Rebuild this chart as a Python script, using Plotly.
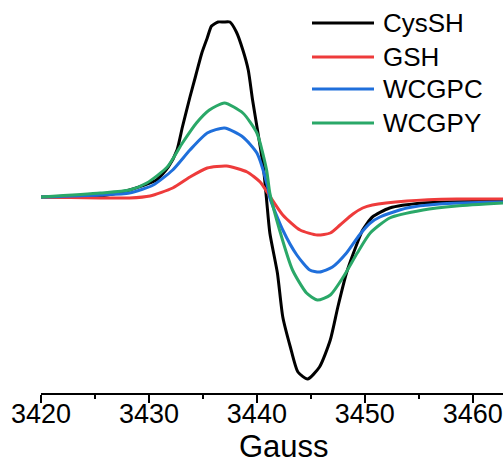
import plotly.graph_objects as go

# ---- data (field in Gauss, intensity in arbitrary units) ----
names = ["CysSH", "GSH", "WCGPC", "WCGPY"]
colors = ["#000000", "#ee3b3b", "#1f6fdb", "#2aa868"]

cys_x = [3420.0, 3425.5, 3428.2, 3430.7, 3431.8, 3432.6, 3433.1, 3433.8, 3434.3, 3434.9,
         3435.4, 3435.8, 3436.4, 3436.9, 3437.5, 3438.1, 3438.7, 3439.2, 3439.6, 3440.1,
         3440.6, 3440.9, 3441.2, 3441.9, 3442.4, 3443.1, 3443.8, 3444.7, 3445.8, 3446.8,
         3447.5, 3448.3, 3449.3, 3449.8, 3450.7, 3452.3, 3455.4, 3462.8]
cys_y = [3, 4, 10, 20, 33, 50, 73, 103, 123, 147,
         162, 174, 178, 178, 178, 168, 150, 130, 100, 67,
         33, 0, -33, -73, -117, -147, -172, -179, -167, -140,
         -107, -73, -43, -30, -17, -8, -3, -1]

gsh_x = [3420.0, 3425.5, 3428.2, 3430.1, 3432.2, 3433.8, 3435.4, 3437.2, 3439.1, 3440.3,
         3441.0, 3442.4, 3444.0, 3445.6, 3446.8, 3447.7, 3448.9, 3449.8, 3450.7, 3453.9,
         3458.5, 3462.8]
gsh_y = [3, 2, 2, 4, 12, 23, 32, 34, 28, 18,
         7, -15, -30, -35, -33, -25, -14, -8, -5, -1,
         1, 1]

wcgpc_x = [3420.0, 3425.5, 3428.2, 3430.4, 3432.2, 3433.8, 3435.4, 3437.0, 3438.7, 3440.0,
           3441.0, 3441.2, 3442.4, 3443.7, 3444.9, 3445.8, 3447.0, 3448.3, 3449.5, 3450.5,
           3451.4, 3453.9, 3456.9, 3462.8]
wcgpc_y = [3, 5, 7, 15, 30, 50, 67, 72, 63, 47,
           13, 2, -30, -55, -70, -72, -67, -53, -35, -23,
           -17, -8, -4, -2]

wcgpy_x = [3420.0, 3425.5, 3428.2, 3429.8, 3431.7, 3433.1, 3434.4, 3435.6, 3437.0, 3438.7,
           3440.0, 3440.9, 3441.2, 3442.1, 3443.3, 3444.6, 3445.6, 3446.8, 3448.0, 3449.3,
           3450.5, 3452.3, 3455.4, 3458.5, 3462.8]
wcgpy_y = [3, 7, 10, 17, 33, 57, 77, 90, 97, 87,
           67, 30, 7, -30, -70, -93, -100, -95, -77, -53,
           -33, -18, -10, -6, -3]

series_x = [cys_x, gsh_x, wcgpc_x, wcgpy_x]
series_y = [cys_y, gsh_y, wcgpc_y, wcgpy_y]

x_ticks = [3420, 3430, 3440, 3450, 3460]
x_title = "Gauss"

# ---- layout geometry ----
W, H = 503, 464
ML, MR, MT, MB = 41, 0, 0, 71
PW, PH = W - ML - MR, H - MT - MB
FONT = "Liberation Sans, Arial, sans-serif"


def px_to_paper(px, py):
    return (px - ML) / PW, (H - MB - py) / PH


fig = go.Figure()
for n, c, xs, ys in zip(names, colors, series_x, series_y):
    fig.add_trace(go.Scatter(x=xs, y=ys, mode="lines", name=n,
                             line=dict(color=c, width=3, shape="spline", smoothing=0.6),
                             showlegend=False))

# manual legend (long line samples like the original)
shapes = []
annotations = []
row_py = [23, 57, 89, 123]
for n, c, py in zip(names, colors, row_py):
    x0, y0 = px_to_paper(312, py)
    x1, _ = px_to_paper(374, py)
    shapes.append(dict(type="line", xref="paper", yref="paper", x0=x0, x1=x1, y0=y0, y1=y0,
                       line=dict(color=c, width=3)))
    tx, _ = px_to_paper(381, py)
    annotations.append(dict(text=n, xref="paper", yref="paper", x=tx, y=y0,
                            xanchor="left", yanchor="middle", showarrow=False,
                            font=dict(family=FONT, size=26, color="black")))

gx, gy = px_to_paper(284, 446)
annotations.append(dict(text=x_title, xref="paper", yref="paper", x=gx, y=gy,
                        xanchor="center", yanchor="middle", showarrow=False,
                        font=dict(family=FONT, size=31, color="black")))

fig.update_layout(
    width=W, height=H,
    margin=dict(l=ML, r=MR, t=MT, b=MB, pad=0),
    paper_bgcolor="white", plot_bgcolor="white",
    font=dict(family=FONT, color="black"),
    shapes=shapes, annotations=annotations,
    xaxis=dict(range=[3420, 3462.8], tickvals=x_ticks, ticktext=[str(t) for t in x_ticks],
               showgrid=False, zeroline=False, showline=True, linecolor="black", linewidth=1.5,
               ticks="outside", ticklen=8, tickwidth=1.5, tickcolor="black",
               ticklabelstandoff=-12, ticklabeloverflow="allow",
               tickfont=dict(family=FONT, size=27, color="black"),
               minor=dict(dtick=5, tick0=3420, ticks="outside", ticklen=4, tickwidth=1.5,
                          tickcolor="black", showgrid=False)),
    yaxis=dict(range=[-193, 200], visible=False, showgrid=False, zeroline=False),
)

fig.write_html("out.html", config={"displayModeBar": False, "staticPlot": True},
               post_script="document.body.style.margin='0';document.body.style.padding='0';")
